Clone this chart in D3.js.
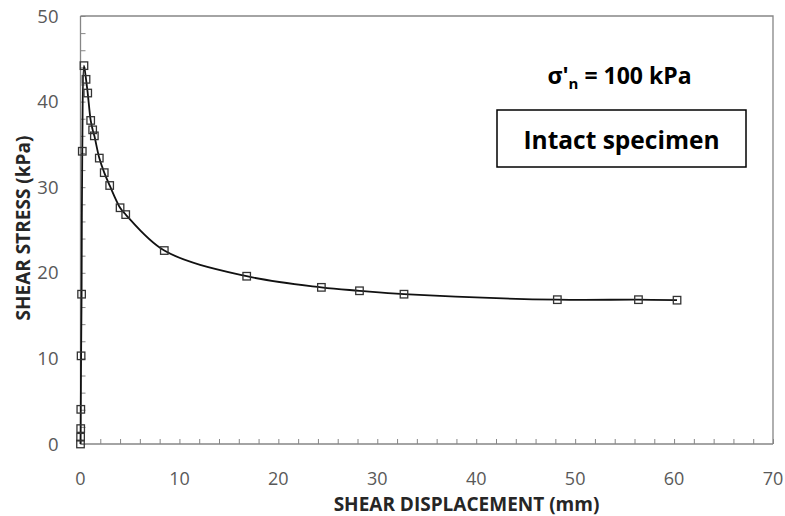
<!DOCTYPE html>
<html>
<head>
<meta charset="utf-8">
<script src="https://cdn.jsdelivr.net/npm/d3@7"></script>
<style>
  body { margin: 0; background: #fff; }
  svg { display: block; }
</style>
</head>
<body>
<svg id="chart"></svg>
<script>
// shear displacement (mm) vs shear stress (kPa)
const dispMm = [0, 0.01, 0.02, 0.03, 0.06, 0.11, 0.18, 0.35, 0.56, 0.73, 1.03, 1.23, 1.4,
  1.9, 2.4, 2.95, 4.0, 4.57, 8.47, 16.8, 24.35, 28.2, 32.7, 48.2, 56.4, 60.3];
const stressKPa = [0, 0.8, 1.8, 4.05, 10.3, 17.5, 34.2, 44.2, 42.6, 41.0, 37.8, 36.7, 36.0,
  33.4, 31.7, 30.2, 27.6, 26.8, 22.6, 19.6, 18.3, 17.9, 17.5, 16.86, 16.86, 16.8];

const xTicks = [0, 10, 20, 30, 40, 50, 60, 70];
const yTicks = [0, 10, 20, 30, 40, 50];

const xTitle = 'SHEAR DISPLACEMENT (mm)';
const yTitle = 'SHEAR STRESS (kPa)';
const boxLabel = 'Intact specimen';

const W = 785, H = 516;
const margin = { top: 16, right: 12, bottom: 72, left: 80.5 };
const width = W - margin.left - margin.right;
const height = H - margin.top - margin.bottom;

const axisGray = '#868686';
const labelGray = '#595959';
const font = "'Open Sans', 'Liberation Sans', sans-serif";

const data = dispMm.map((d, i) => ({ x: d, y: stressKPa[i] }));

const x = d3.scaleLinear().domain([0, 70]).range([0, width]);
const y = d3.scaleLinear().domain([0, 50]).range([height, 0]);

const svg = d3.select('#chart')
  .attr('width', W)
  .attr('height', H)
  .attr('font-family', font);

const g = svg.append('g')
  .attr('transform', `translate(${margin.left}, ${margin.top})`);

// frame (top + right)
g.append('path')
  .attr('d', `M0,0H${width}V${height}`)
  .attr('fill', 'none')
  .attr('stroke', axisGray)
  .attr('stroke-width', 1.3);

// minor ticks every 2 units, drawn inward
const xAxis = d3.axisTop(x).tickValues(d3.range(0, 71, 2)).tickSize(5).tickFormat('');
g.append('g')
  .attr('transform', `translate(0, ${height})`)
  .call(xAxis)
  .call(a => a.select('.domain').remove())
  .selectAll('line').attr('stroke', axisGray);

const yAxis = d3.axisRight(y).tickValues(d3.range(0, 51, 2)).tickSize(5).tickFormat('');
g.append('g')
  .call(yAxis)
  .call(a => a.select('.domain').remove())
  .selectAll('line').attr('stroke', axisGray);

// axis lines
g.append('line')
  .attr('x1', 0).attr('x2', width).attr('y1', height).attr('y2', height)
  .attr('stroke', axisGray).attr('stroke-width', 1.3);
g.append('line')
  .attr('x1', 0).attr('x2', 0).attr('y1', 0).attr('y2', height)
  .attr('stroke', axisGray).attr('stroke-width', 1.3);

// tick labels
g.append('g').selectAll('text')
  .data(xTicks)
  .join('text')
  .attr('x', d => x(d))
  .attr('y', height + 41)
  .attr('text-anchor', 'middle')
  .attr('font-size', 18)
  .attr('fill', labelGray)
  .text(d => d);

g.append('g').selectAll('text')
  .data(yTicks)
  .join('text')
  .attr('x', -22)
  .attr('y', d => y(d) + 6.5)
  .attr('text-anchor', 'end')
  .attr('font-size', 18.5)
  .attr('fill', labelGray)
  .text(d => d);

// axis titles
g.append('text')
  .attr('x', 386)
  .attr('y', height + 66.5)
  .attr('text-anchor', 'middle')
  .attr('font-size', 19)
  .attr('font-weight', 'bold')
  .attr('fill', '#262626')
  .text(xTitle);

g.append('text')
  .attr('transform', `translate(-50.5, ${y(25) - 2}) rotate(-90)`)
  .attr('text-anchor', 'middle')
  .attr('font-size', 19)
  .attr('font-weight', 'bold')
  .attr('fill', '#262626')
  .text(yTitle);

// smoothed curve
const line = d3.line()
  .x(d => x(d.x))
  .y(d => y(d.y))
  .curve(d3.curveCatmullRom.alpha(0.5));

g.append('path')
  .datum(data)
  .attr('d', line)
  .attr('fill', 'none')
  .attr('stroke', '#111')
  .attr('stroke-width', 1.8);

// open square markers
const ms = 7.5;
g.append('g').selectAll('rect')
  .data(data)
  .join('rect')
  .attr('x', d => x(d.x) - ms / 2)
  .attr('y', d => y(d.y) - ms / 2)
  .attr('width', ms)
  .attr('height', ms)
  .attr('fill', 'none')
  .attr('stroke', '#333')
  .attr('stroke-width', 1.3);

// annotations
const sig = svg.append('text')
  .attr('x', 619.5)
  .attr('y', 84)
  .attr('text-anchor', 'middle')
  .attr('font-size', 23)
  .attr('font-weight', 'bold')
  .attr('fill', '#000');
sig.append('tspan').text("σ'");
sig.append('tspan').attr('font-size', 15).attr('dy', 5).text('n');
sig.append('tspan').attr('dy', -5).text(' = 100 kPa');

svg.append('rect')
  .attr('x', 497)
  .attr('y', 110)
  .attr('width', 249)
  .attr('height', 57)
  .attr('fill', '#fff')
  .attr('stroke', '#000')
  .attr('stroke-width', 1.5);

svg.append('text')
  .attr('x', 621.5)
  .attr('y', 148.5)
  .attr('text-anchor', 'middle')
  .attr('font-size', 24.5)
  .attr('font-weight', 'bold')
  .attr('fill', '#000')
  .text(boxLabel);
</script>
</body>
</html>
